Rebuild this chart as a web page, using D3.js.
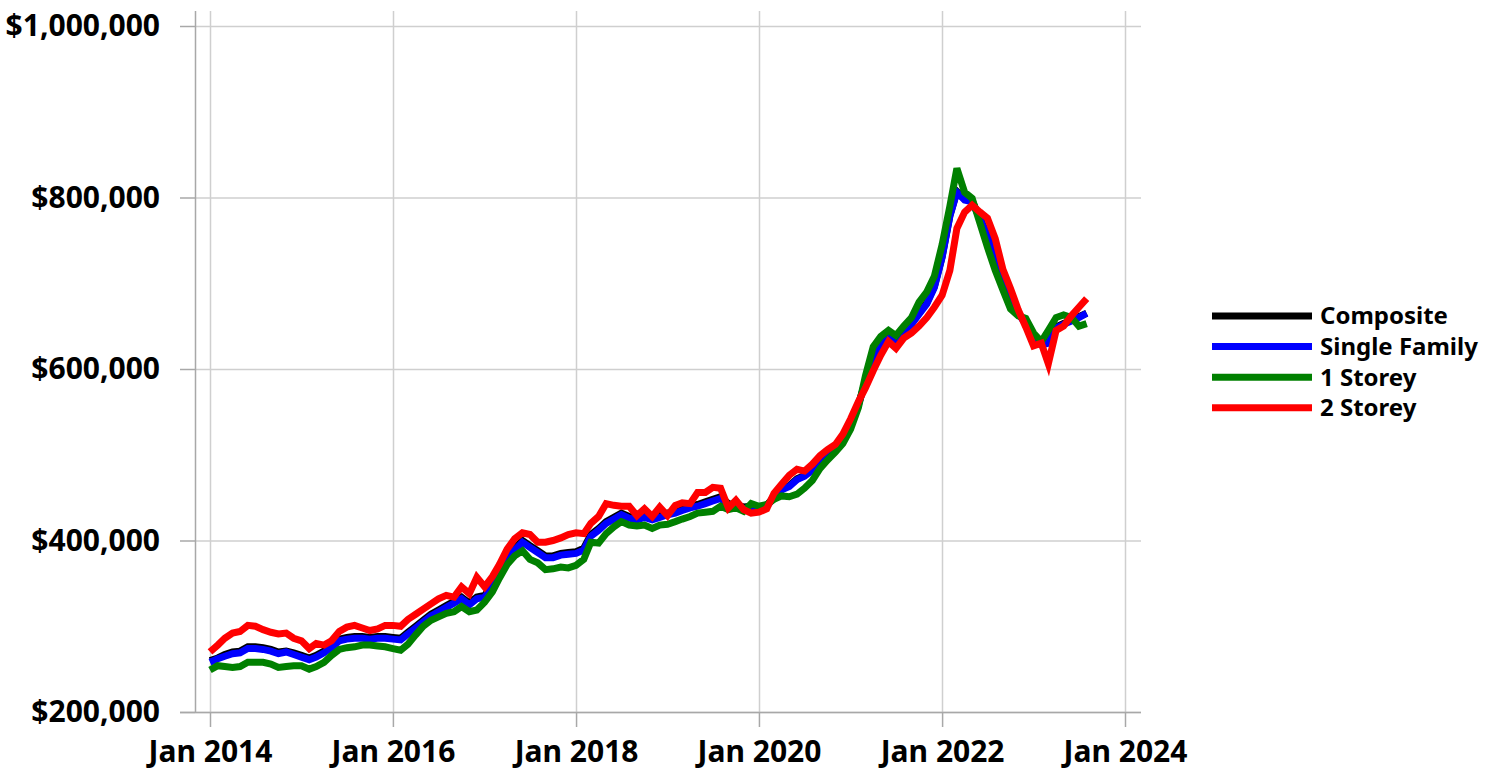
<!DOCTYPE html>
<html>
<head>
<meta charset="utf-8">
<script src="https://cdn.jsdelivr.net/npm/d3@7"></script>
<style>
  body { margin: 0; background: #fff; }
  text { font-family: "Noto Sans", sans-serif; font-weight: 700; fill: #000; }
</style>
</head>
<body>
<script>
var w = 1499;
var h = 774;

// monthly, Jan 2014 .. Aug 2023 (thousands of dollars)
var months = d3.timeMonth.range(new Date(2014, 0, 1), new Date(2023, 8, 1));

var composite = [
  260, 263, 267, 270, 271, 276, 276, 275, 273, 270, 271, 269, 266, 263, 266, 271, 277, 285, 287, 288, 288, 287, 288, 288, 287, 286, 293,
  300, 307, 314, 319, 324, 329, 334, 327, 334, 336, 348, 363, 379, 391, 400, 394, 388, 382, 382, 385, 386, 387, 391, 407, 414, 422,
  427, 432, 428, 426, 429, 426, 429, 432, 434, 437, 440, 442, 445, 448, 451, 443, 442, 439, 440,
  438, 441, 451, 460, 464, 472, 476, 483, 494, 502, 509, 520, 537, 559, 586,
  613, 629, 641, 633, 645, 653, 665, 677, 696, 731, 779, 807, 798, 796, 776, 756, 729, 701, 681, 666, 653, 633, 629, 631, 649, 653, 657, 661, 665
];
var singleFamily = [
  258, 262, 265, 268, 269, 274, 274, 273, 271, 268, 270, 267, 264, 261, 264, 269, 275, 283, 285, 286, 286, 285, 286, 286, 285, 284, 291,
  298, 305, 312, 317, 322, 327, 332, 325, 332, 334, 346, 361, 377, 389, 398, 392, 386, 380, 380, 383, 384, 385, 389, 405, 412, 420,
  425, 430, 426, 424, 427, 424, 427, 430, 432, 435, 438, 440, 443, 446, 449, 441, 440, 437, 439,
  437, 440, 450, 459, 463, 471, 475, 482, 493, 501, 508, 519, 536, 558, 585,
  612, 628, 640, 632, 644, 652, 664, 676, 695, 730, 778, 806, 797, 795, 775, 755, 728, 700, 680, 665, 652, 632, 628, 630, 648, 652, 656, 660, 665
];
var oneStorey = [
  249, 254, 253, 252, 253, 258, 258, 258, 256, 252, 253, 254, 254, 250, 253, 258, 266, 273, 275, 276, 278, 278, 277, 276, 274, 272, 279,
  290, 300, 307, 311, 315, 317, 323, 317, 319, 328, 340, 356, 372, 382, 388, 378, 374, 366, 367, 369, 368, 371, 378, 398, 397, 408,
  416, 422, 418, 417, 418, 414, 418, 419, 422, 425, 428, 432, 433, 434, 440, 436, 438, 434, 443,
  440, 442, 448, 452, 451, 454, 461, 470, 484, 494, 503, 513, 530, 555, 592,
  626, 638, 645, 639, 650, 660, 678, 690, 708, 745, 790, 834, 806, 799, 770, 742, 715, 692, 670, 662, 659, 642, 632, 645, 660, 663, 660, 650, 653
];
var twoStorey = [
  270, 278, 286, 292, 294, 301, 300, 296, 293, 291, 292, 286, 283, 274, 280, 278, 283, 294, 299, 301, 298, 295, 297, 301, 301, 300, 308,
  314, 320, 326, 332, 336, 334, 346, 338, 357, 346, 358, 372, 390, 402, 409, 407, 398, 398, 400, 403, 407, 409, 408, 420, 428, 443,
  441, 440, 440, 429, 437, 428, 439, 429, 441, 444, 443, 456, 456, 462, 461, 438, 447, 436, 432,
  433, 437, 455, 466, 476, 483, 481, 489, 499, 506, 512, 524, 542, 562, 578,
  598, 616, 632, 624, 636, 642, 650, 660, 672, 686, 715, 764, 783, 791, 783, 776, 752, 716, 694, 669, 649, 627, 630, 606, 645, 650, 662, 672, 682
];

var seriesNames = ["Composite", "Single Family", "1 Storey", "2 Storey"];
var seriesColors = ["#000000", "#0000ff", "#008000", "#ff0000"];
var seriesValues = [composite, singleFamily, oneStorey, twoStorey];

var yTicks = [200000, 400000, 600000, 800000, 1000000];
var xTicks = [2014, 2016, 2018, 2020, 2022, 2024].map(function(y) { return new Date(y, 0, 1); });

var plot = { left: 195, right: 1141, top: 11, bottom: 712 };

var x = d3.scaleTime()
  .domain([new Date(2014, 0, 1), new Date(2024, 0, 1)])
  .range([210, 1125]);

var y = d3.scaleLinear()
  .domain([200000, 1000000])
  .range([712, 26]);

var svg = d3.select("body")
  .append("svg")
  .attr("width", w)
  .attr("height", h);

// grid
svg.append("g")
  .selectAll("line")
  .data(yTicks)
  .enter()
  .append("line")
  .attr("x1", plot.left)
  .attr("x2", plot.right)
  .attr("y1", function(d) { return y(d) + 0.5; })
  .attr("y2", function(d) { return y(d) + 0.5; })
  .attr("stroke", "#cfcfcf")
  .attr("stroke-width", 1.5);

svg.append("g")
  .selectAll("line")
  .data(xTicks)
  .enter()
  .append("line")
  .attr("x1", function(d) { return Math.round(x(d)) + 0.5; })
  .attr("x2", function(d) { return Math.round(x(d)) + 0.5; })
  .attr("y1", plot.top)
  .attr("y2", plot.bottom)
  .attr("stroke", "#cfcfcf")
  .attr("stroke-width", 1.5);

// axes
var yAxis = d3.axisLeft(y)
  .tickValues(yTicks)
  .tickSize(15)
  .tickPadding(20)
  .tickFormat(function(d) { return "$" + d3.format(",")(d); });

var gy = svg.append("g")
  .attr("transform", "translate(" + plot.left + ",0)")
  .call(yAxis);
gy.select(".domain").remove();
gy.selectAll(".tick line").attr("stroke", "#a8a8a8").attr("stroke-width", 1.5);
gy.selectAll(".tick text")
  .style("font-family", "'Noto Sans', sans-serif")
  .style("font-weight", 700)
  .style("font-size", "30px")
  .attr("fill", "#000");

var xAxis = d3.axisBottom(x)
  .tickValues(xTicks)
  .tickSize(15)
  .tickPadding(14)
  .tickFormat(d3.timeFormat("Jan %Y"));

var gx = svg.append("g")
  .attr("transform", "translate(0," + plot.bottom + ")")
  .call(xAxis);
gx.select(".domain").remove();
gx.selectAll(".tick line").attr("stroke", "#a8a8a8").attr("stroke-width", 1.5);
gx.selectAll(".tick text")
  .style("font-family", "'Noto Sans', sans-serif")
  .style("font-weight", 700)
  .style("font-size", "30px")
  .attr("fill", "#000");

svg.append("line")
  .attr("x1", plot.left - 15).attr("x2", plot.right)
  .attr("y1", plot.bottom + 0.5).attr("y2", plot.bottom + 0.5)
  .attr("stroke", "#a8a8a8").attr("stroke-width", 1.5);

svg.append("line")
  .attr("x1", plot.left + 0.5).attr("x2", plot.left + 0.5)
  .attr("y1", plot.top).attr("y2", plot.bottom)
  .attr("stroke", "#a8a8a8").attr("stroke-width", 1.5);

// lines
var line = d3.line()
  .x(function(d, i) { return x(months[i]); })
  .y(function(d) { return y(d * 1000); });

svg.append("g")
  .selectAll("path")
  .data(seriesValues)
  .enter()
  .append("path")
  .attr("d", line)
  .attr("fill", "none")
  .attr("stroke", function(d, i) { return seriesColors[i]; })
  .attr("stroke-width", 7)
  .attr("stroke-linejoin", "miter");

// legend
var legend = svg.append("g")
  .attr("transform", "translate(1212,316)");

var item = legend.selectAll("g")
  .data(seriesNames)
  .enter()
  .append("g")
  .attr("transform", function(d, i) { return "translate(0," + (i * 30.6) + ")"; });

item.append("line")
  .attr("x1", 0).attr("x2", 100)
  .attr("stroke", function(d, i) { return seriesColors[i]; })
  .attr("stroke-width", 7);

item.append("text")
  .attr("x", 108)
  .attr("dy", "0.35em")
  .style("font-size", "24px")
  .text(function(d) { return d; });
</script>
</body>
</html>
